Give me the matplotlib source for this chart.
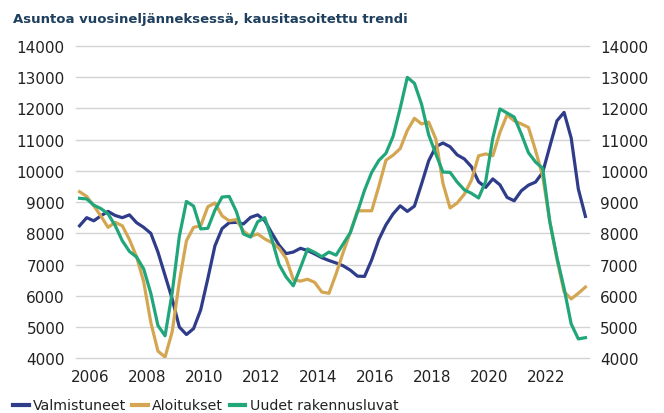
import matplotlib
matplotlib.use("Agg")
import matplotlib.pyplot as plt
import pandas as pd

# Quarterly data, 2005Q3 .. 2023Q2
start_quarter = "2005Q3"
valmistuneet = [8240, 8500, 8400, 8560, 8700, 8570, 8500, 8590, 8340, 8190,
                8000, 7400, 6650, 5900, 5000, 4760, 4950, 5550, 6550, 7600,
                8150, 8340, 8350, 8300, 8510, 8590, 8400, 8000, 7620, 7350,
                7400, 7520, 7450, 7340, 7220, 7130, 7050, 6960, 6820, 6630,
                6620, 7150, 7800, 8270, 8620, 8880, 8700, 8870, 9580, 10320,
                10770, 10890, 10770, 10510, 10380, 10130, 9650, 9470, 9740, 9550,
                9150, 9040, 9360, 9540, 9640, 9950, 10780, 11600, 11870, 11050,
                9420, 8540]
aloitukset = [9330, 9180, 8880, 8550, 8190, 8350, 8240, 7800, 7250, 6450,
              5150, 4230, 4040, 4850, 6450, 7760, 8190, 8240, 8850, 8970,
              8560, 8400, 8440, 8070, 7900, 7980, 7820, 7700, 7520, 7190,
              6520, 6470, 6530, 6430, 6120, 6080, 6700, 7390, 8030, 8720,
              8720, 8720, 9500, 10340, 10500, 10710, 11290, 11680, 11500, 11560,
              11020, 9600, 8810, 8970, 9250, 9700, 10480, 10540, 10480, 11230,
              11790, 11600, 11500, 11390, 10650, 9830, 8370, 7170, 6130, 5900,
              6080, 6280]
uudet_luvat = [9120, 9100, 8900, 8790, 8620, 8250, 7760, 7420, 7240, 6860,
               6080, 5050, 4720, 6100, 7900, 9020, 8870, 8140, 8160, 8740,
               9160, 9180, 8700, 7980, 7880, 8370, 8500, 7800, 7000, 6600,
               6320, 6900, 7500, 7390, 7250, 7400, 7300, 7660, 8020, 8680,
               9380, 9950, 10330, 10560, 11100, 12000, 12990, 12800, 12130, 11150,
               10540, 9960, 9950, 9640, 9390, 9280, 9130, 9660, 11050, 11980,
               11850, 11720, 11180, 10580, 10280, 10080, 8370, 7230, 6240, 5100,
               4620, 4660]
series_names = ["Valmistuneet", "Aloitukset", "Uudet rakennusluvat"]
year_ticks = [2006, 2008, 2010, 2012, 2014, 2016, 2018, 2020, 2022]
y_ticks = [4000, 5000, 6000, 7000, 8000, 9000, 10000, 11000, 12000, 13000, 14000]
title = "Asuntoa vuosineljänneksessä, kausitasoitettu trendi"

colors = ["#2F3C8A", "#D4A651", "#21A67B"]

periods = pd.period_range(start_quarter, periods=len(valmistuneet), freq="Q")
xpos = [p.year + (p.quarter - 0.5) / 4 for p in periods]

W, H = 664, 414
fig = plt.figure(figsize=(W / 100, H / 100), dpi=100)
ax = fig.add_axes([76 / W, (H - 359.3) / H, (589 - 76) / W, (359.3 - 46.8) / H])

for vals, name, c in zip([valmistuneet, aloitukset, uudet_luvat], series_names, colors):
    ax.plot(xpos, vals, color=c, lw=2.3, label=name, solid_joinstyle="round", zorder=3)

ax.set_xlim(2005.5, 2023.5)
ax.set_ylim(4000, 14000)
ax.set_yticks(y_ticks)
ax.set_yticklabels([str(v) for v in y_ticks])
ax.set_xticks(year_ticks)
ax.set_xticklabels([str(y) for y in year_ticks])
ax.grid(axis="y", color="#D3D3D3", lw=1.0, zorder=0)
for gl in ax.get_ygridlines():
    gl.set_clip_on(False)
ax.set_axisbelow(True)
for s in ax.spines.values():
    s.set_visible(False)
ax.tick_params(axis="both", length=0, labelsize=11, colors="#222222")
ax.tick_params(axis="x", pad=8)
ax.tick_params(axis="y", pad=8, labelright=True, right=False)

fig.text(13 / W, 1 - 19.5 / H, title, fontsize=9.5, fontweight="bold",
         color="#1E3F5E", ha="left", va="center")

leg = fig.legend(loc="center left", bbox_to_anchor=(13 / W, 1 - 406.5 / H), ncol=3,
                 frameon=False, fontsize=10.2, handlelength=1.1, handletextpad=0.3,
                 columnspacing=0.45, borderaxespad=0, borderpad=0)
for line in leg.get_lines():
    line.set_linewidth(3)
for t in leg.get_texts():
    t.set_color("#222222")

fig.savefig("out.png", dpi=100)
